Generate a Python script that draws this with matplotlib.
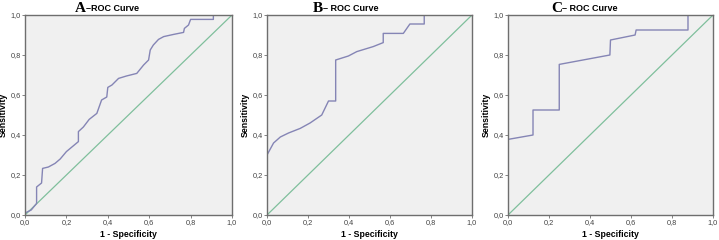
import matplotlib
matplotlib.use("Agg")
import matplotlib.pyplot as plt
import numpy as np

# Panel A ROC curve
a_fpr = [0.0, 0.03, 0.056, 0.056, 0.08, 0.085, 0.113, 0.145, 0.17, 0.2, 0.258, 0.258,
         0.282, 0.31, 0.347, 0.37, 0.395, 0.4, 0.42, 0.452, 0.49, 0.54, 0.573, 0.597,
         0.605, 0.62, 0.645, 0.67, 0.718, 0.766, 0.77, 0.79, 0.8, 0.91, 0.91, 1.0]
a_tpr = [0.01, 0.025, 0.058, 0.14, 0.16, 0.233, 0.24, 0.258, 0.28, 0.317, 0.367, 0.417,
         0.44, 0.478, 0.508, 0.575, 0.59, 0.638, 0.65, 0.683, 0.695, 0.708, 0.75, 0.775,
         0.825, 0.85, 0.878, 0.892, 0.903, 0.913, 0.933, 0.95, 0.978, 0.978, 1.0, 1.0]

# Panel B ROC curve
b_fpr = [0.0, 0.032, 0.065, 0.105, 0.162, 0.21, 0.267, 0.3, 0.335, 0.335, 0.397, 0.438,
         0.518, 0.567, 0.567, 0.665, 0.697, 0.767, 0.767, 1.0]
b_tpr = [0.3, 0.36, 0.39, 0.41, 0.433, 0.46, 0.5, 0.57, 0.57, 0.775, 0.795, 0.817,
         0.842, 0.862, 0.908, 0.908, 0.955, 0.955, 1.0, 1.0]

# Panel C ROC curve
c_fpr = [0.0, 0.122, 0.122, 0.25, 0.25, 0.497, 0.5, 0.62, 0.625, 0.878, 0.878, 1.0]
c_tpr = [0.378, 0.4, 0.525, 0.525, 0.753, 0.8, 0.875, 0.9, 0.925, 0.925, 1.0, 1.0]

panel_letters = ["A", "B", "C"]
panel_titles = ["\u2013ROC Curve", "\u2013 ROC Curve", "\u2013 ROC Curve"]
ticks = [0.0, 0.2, 0.4, 0.6, 0.8, 1.0]
tick_labels = ["0,0", "0,2", "0,4", "0,6", "0,8", "1,0"]

curves = [(a_fpr, a_tpr), (b_fpr, b_tpr), (c_fpr, c_tpr)]

fig = plt.figure(figsize=(7.19, 2.40), dpi=100)
fig.patch.set_facecolor("white")

lefts = [25 / 719, 267 / 719, 508 / 719]
widths = [207 / 719, 205 / 719, 205 / 719]
bottom = 25 / 240
height = 200 / 240
title_x = [0.295, 0.273, 0.263]

frame_col = "#6e6e6e"
for i, (fx, ty) in enumerate(curves):
    ax = fig.add_axes([lefts[i], bottom, widths[i], height])
    ax.set_facecolor("#f0f0f0")
    ax.plot([0, 1], [0, 1], color="#7fbf9c", lw=0.9)
    ax.plot(fx, ty, color="#8585b5", lw=1.0)
    ax.set_xlim(0, 1)
    ax.set_ylim(0, 1)
    ax.set_xticks(ticks)
    ax.set_yticks(ticks)
    ax.set_xticklabels(tick_labels, fontsize=5.3, color="#444444", family="Liberation Sans")
    ax.set_yticklabels(tick_labels, fontsize=5.3, color="#444444", family="Liberation Sans")
    ax.tick_params(length=2.0, width=0.6, color=frame_col, pad=1.0)
    for s in ax.spines.values():
        s.set_color(frame_col)
        s.set_linewidth(1.0)
    ax.set_xlabel("1 - Specificity", fontsize=6.3, fontweight="bold",
                  family="Liberation Sans", labelpad=3)
    ax.set_ylabel("Sensitivity", fontsize=6.3, fontweight="bold",
                  family="Liberation Sans", labelpad=2)
    ax.text(title_x[i], 1.035, panel_letters[i], transform=ax.transAxes,
            ha="right", va="center", fontsize=11, fontweight="bold",
            family="Liberation Serif")
    ax.text(title_x[i], 1.035, panel_titles[i], transform=ax.transAxes,
            ha="left", va="center", fontsize=6.5, fontweight="bold",
            family="Liberation Sans")

fig.savefig("out.png", dpi=100)
